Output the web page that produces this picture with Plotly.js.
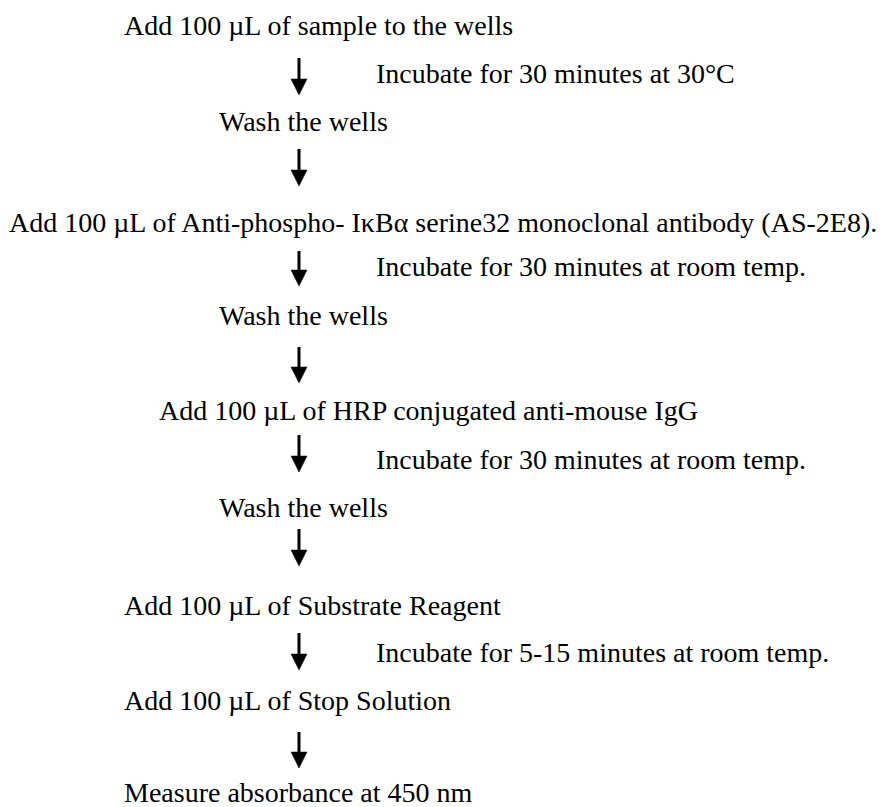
<!DOCTYPE html>
<html>
<head>
<meta charset="utf-8">
<script src="https://cdn.plot.ly/plotly-3.0.1.min.js"></script>
<style>html,body{margin:0;padding:0;background:#fff;}#chart{width:883px;height:807px;}</style>
</head>
<body>
<div id="chart"></div>
<script>
// Step texts (left column) and their left x / baseline y in page pixels
var stepLabels = [
  "Add 100 \u00b5L of sample to the wells",
  "Wash the wells",
  "Add 100 \u00b5L of Anti-phospho- I\u03baB\u03b1 serine32 monoclonal antibody (AS-2E8).",
  "Wash the wells",
  "Add 100 \u00b5L of HRP conjugated anti-mouse IgG",
  "Wash the wells",
  "Add 100 \u00b5L of Substrate Reagent",
  "Add 100 \u00b5L of Stop Solution",
  "Measure absorbance at 450 nm"
];
var stepX = [123, 218, 8, 218, 158, 218, 123, 123, 123];
var stepBaseline = [33, 129, 230, 323, 418, 515, 613, 708, 800];

// Incubation notes (right of arrows)
var incubateLabels = [
  "Incubate for 30 minutes at 30\u00b0C",
  "Incubate for 30 minutes at room temp.",
  "Incubate for 30 minutes at room temp.",
  "Incubate for 5-15 minutes at room temp."
];
var incubateX = [375, 375, 375, 375];
var incubateBaseline = [81, 274, 467, 660];

// Arrows: x, top, tip
var arrowX = [299, 299, 299, 299, 299, 299, 299, 299];
var arrowTop = [58, 149, 251, 347, 435, 529, 633, 732];
var arrowTip = [95, 186, 286, 383, 472, 566, 670, 768];

var FONT = {family: "Liberation Serif", size: 28, color: "#000"};
var headH = 16, headW = 8;
var baseShift = 8; // baseline -> middle of text box

var traces = [];
for (var i = 0; i < arrowX.length; i++) {
  traces.push({
    x: [arrowX[i], arrowX[i]], y: [arrowTop[i], arrowTip[i] - headH + 1],
    mode: "lines", line: {color: "#000", width: 3}, hoverinfo: "skip", showlegend: false
  });
  traces.push({
    x: [arrowX[i] - headW, arrowX[i] + headW, arrowX[i], arrowX[i] - headW],
    y: [arrowTip[i] - headH, arrowTip[i] - headH, arrowTip[i], arrowTip[i] - headH],
    mode: "lines", fill: "toself", fillcolor: "#000", line: {color: "#000", width: 0.5},
    hoverinfo: "skip", showlegend: false
  });
}

var annotations = [];
for (var j = 0; j < stepLabels.length; j++) {
  annotations.push({x: stepX[j], y: stepBaseline[j] - baseShift, xref: "x", yref: "y",
    text: stepLabels[j], showarrow: false, xanchor: "left", yanchor: "middle",
    font: FONT, borderpad: 0});
}
for (var k = 0; k < incubateLabels.length; k++) {
  annotations.push({x: incubateX[k], y: incubateBaseline[k] - baseShift, xref: "x", yref: "y",
    text: incubateLabels[k], showarrow: false, xanchor: "left", yanchor: "middle",
    font: FONT, borderpad: 0});
}

var layout = {
  width: 883, height: 807,
  margin: {l: 0, r: 0, t: 0, b: 0, pad: 0},
  paper_bgcolor: "#fff", plot_bgcolor: "#fff",
  xaxis: {range: [0, 883], visible: false, fixedrange: true},
  yaxis: {range: [807, 0], visible: false, fixedrange: true},
  showlegend: false,
  annotations: annotations
};
Plotly.newPlot("chart", traces, layout, {displayModeBar: false, staticPlot: true});
</script>
</body>
</html>
